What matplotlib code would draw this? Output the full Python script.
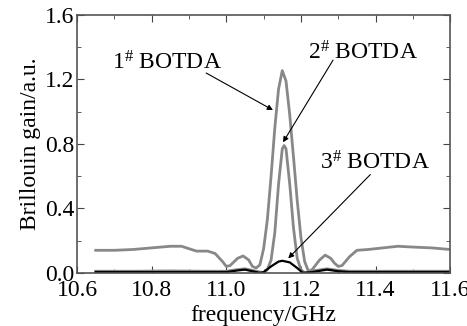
import matplotlib
matplotlib.use('Agg')
import matplotlib.pyplot as plt
from matplotlib.ticker import MultipleLocator

plt.rcParams['font.family'] = ['Liberation Serif', 'DejaVu Serif']
plt.rcParams['mathtext.fontset'] = 'custom'
plt.rcParams['mathtext.rm'] = 'Liberation Serif'
plt.rcParams['mathtext.it'] = 'Liberation Serif'

# 1# BOTDA
freq1 = [10.65, 10.70, 10.75, 10.80, 10.85, 10.88, 10.90, 10.92, 10.95, 10.97,
         10.99, 11.00, 11.01, 11.03, 11.045, 11.06, 11.07, 11.08, 11.09, 11.10,
         11.11, 11.12, 11.13, 11.14, 11.15, 11.16, 11.17, 11.18, 11.19, 11.20,
         11.21, 11.22, 11.23, 11.25, 11.265, 11.28, 11.29, 11.30, 11.31, 11.33,
         11.35, 11.38, 11.42, 11.46, 11.50, 11.55, 11.60]
gain1 = [0.14, 0.14, 0.145, 0.155, 0.165, 0.165, 0.15, 0.135, 0.135, 0.12,
         0.07, 0.04, 0.045, 0.09, 0.105, 0.08, 0.04, 0.03, 0.05, 0.15,
         0.33, 0.60, 0.90, 1.14, 1.255, 1.19, 0.98, 0.72, 0.45, 0.22,
         0.07, 0.01, 0.02, 0.08, 0.11, 0.09, 0.06, 0.04, 0.045, 0.10,
         0.14, 0.145, 0.155, 0.165, 0.16, 0.155, 0.145]

# 2# BOTDA
freq2 = [10.65, 10.75, 10.85, 10.95, 11.00, 11.03, 11.05, 11.07, 11.10, 11.11,
         11.12, 11.13, 11.14, 11.15, 11.155, 11.16, 11.17, 11.18, 11.19, 11.20,
         11.21, 11.24, 11.27, 11.30, 11.33, 11.45, 11.60]
gain2 = [0.01, 0.01, 0.012, 0.01, 0.01, 0.02, 0.025, 0.015, 0.0, 0.02,
         0.08, 0.25, 0.55, 0.77, 0.79, 0.77, 0.55, 0.28, 0.09, 0.02,
         0.0, 0.015, 0.025, 0.015, 0.01, 0.01, 0.01]

# 3# BOTDA
freq3 = [10.65, 10.80, 10.95, 11.00, 11.03, 11.05, 11.07, 11.09, 11.10, 11.12,
         11.14, 11.15, 11.17, 11.19, 11.205, 11.23, 11.27, 11.30, 11.33, 11.45, 11.60]
gain3 = [0.005, 0.005, 0.005, 0.005, 0.015, 0.02, 0.01, 0.0, 0.005, 0.04,
         0.07, 0.075, 0.065, 0.03, 0.0, 0.005, 0.02, 0.01, 0.005, 0.005, 0.005]

fig = plt.figure(figsize=(4.67, 3.26), dpi=100)
ax = fig.add_axes([0.165, 0.163, 0.799, 0.791])

ax.plot(freq1, gain1, color='#888888', lw=2)
ax.plot(freq2, gain2, color='#888888', lw=2)
ax.plot(freq3, gain3, color='black', lw=1.6)

ax.set_xlim(10.6, 11.6)
ax.set_ylim(0, 1.6)
ax.xaxis.set_major_locator(MultipleLocator(0.2))
ax.xaxis.set_minor_locator(MultipleLocator(0.1))
ax.yaxis.set_major_locator(MultipleLocator(0.4))
ax.yaxis.set_minor_locator(MultipleLocator(0.2))
ax.set_yticklabels([f'{v:.1f}' for v in ax.get_yticks()])
ax.set_xticklabels([f'{v:.1f}' for v in ax.get_xticks()])
ax.tick_params(which='both', direction='in', top=True, right=True,
               labelsize=17, color='#444444')
ax.tick_params(axis='x', pad=5)
ax.tick_params(axis='y', pad=2)
ax.tick_params(which='major', length=5)
ax.tick_params(which='minor', length=3)
for s in ax.spines.values():
    s.set_color('#555555')
    s.set_linewidth(1.2)

ax.set_xlabel('frequency/GHz', fontsize=17, labelpad=3)
ax.set_ylabel('Brillouin gain/a.u.', fontsize=17, labelpad=3)

arrow = dict(arrowstyle='-|>', color='black', lw=0.8, mutation_scale=8,
             shrinkA=0, shrinkB=0)
ax.text(10.694, 1.30, r'1$^{\#}$ BOTDA', fontsize=17, va='center', ha='left')
ax.annotate('', xy=(11.125, 1.01), xytext=(10.946, 1.24), arrowprops=arrow)
ax.text(11.219, 1.365, r'2$^{\#}$ BOTDA', fontsize=17, va='center', ha='left')
ax.annotate('', xy=(11.152, 0.81), xytext=(11.286, 1.32), arrowprops=arrow)
ax.text(11.25, 0.68, r'3$^{\#}$ BOTDA', fontsize=17, va='center', ha='left')
ax.annotate('', xy=(11.166, 0.09), xytext=(11.386, 0.61), arrowprops=arrow)

fig.savefig('out.png', dpi=100)
